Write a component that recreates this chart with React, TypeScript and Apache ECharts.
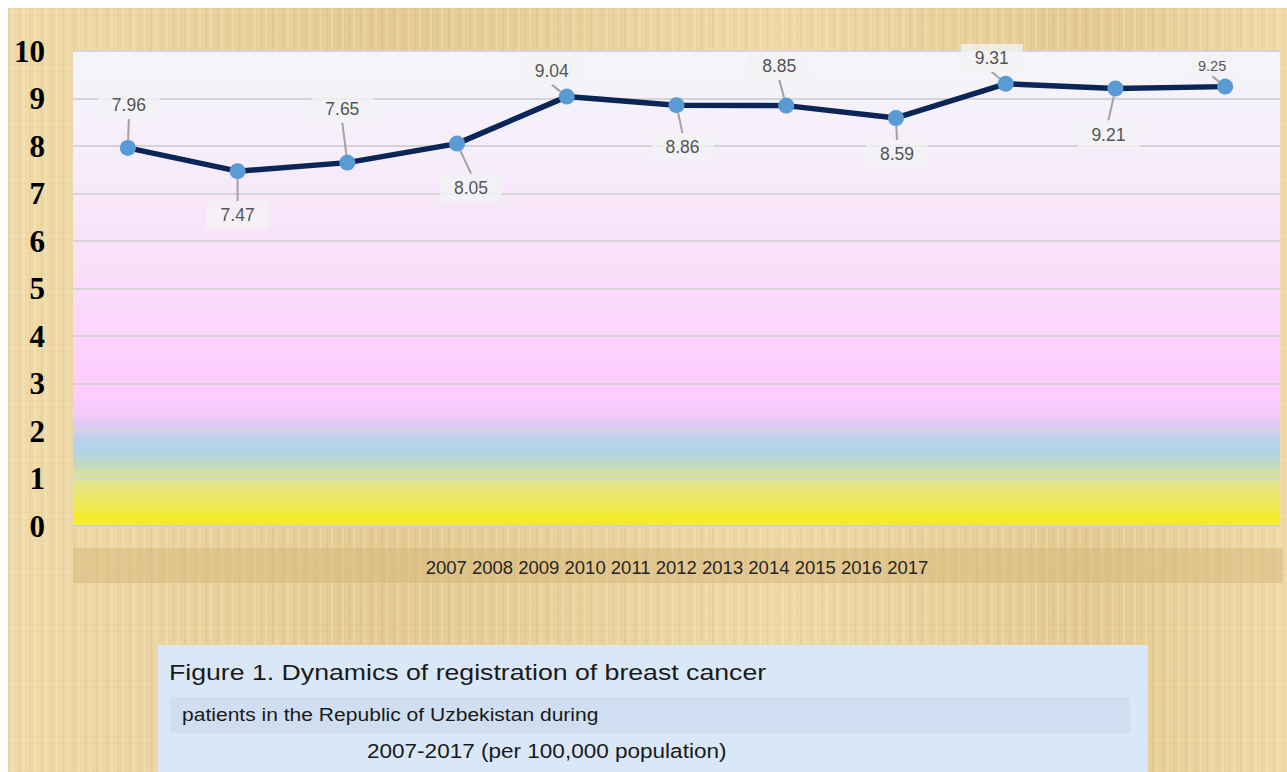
import React, { useEffect, useRef } from "react";
import * as echarts from "echarts";

const years = ["2007", "2008", "2009", "2010", "2011", "2012", "2013", "2014", "2015", "2016", "2017"];
const values = [7.96, 7.47, 7.65, 8.05, 9.04, 8.86, 8.85, 8.59, 9.31, 9.21, 9.25];
const yMin = 0;
const yMax = 10;
const yInterval = 1;
const captionLines = [
  "Figure 1. Dynamics of registration of breast cancer",
  "patients in the Republic of Uzbekistan during",
  "2007-2017 (per 100,000 population)",
];

// label displacement (layout only), relative to each point
const labelShift: [number, number][] = [
  [1, -43], [0, 44], [-5, -54], [14, 44], [-15, -26], [6, 42],
  [-7, -40], [1, 36], [-14, -26], [-7, 46], [-13, -21],
];

export default function App() {
  const ref = useRef<HTMLDivElement>(null);

  useEffect(() => {
    if (!ref.current) return;
    const chart = echarts.init(ref.current, undefined, { renderer: "svg" });

    const plotGradient = new echarts.graphic.LinearGradient(0, 0, 0, 1, [
      { offset: 0, color: "#f4f5fa" },
      { offset: 0.2, color: "#f6eefa" },
      { offset: 0.45, color: "#f9e0f9" },
      { offset: 0.65, color: "#fdd0fd" },
      { offset: 0.72, color: "#ffccff" },
      { offset: 0.76, color: "#f6c9fb" },
      { offset: 0.79, color: "#dccbf0" },
      { offset: 0.82, color: "#b7d2ea" },
      { offset: 0.845, color: "#b0d4e6" },
      { offset: 0.87, color: "#c2dac0" },
      { offset: 0.895, color: "#d8e2a0" },
      { offset: 0.92, color: "#e6e67c" },
      { offset: 0.96, color: "#eeea50" },
      { offset: 0.985, color: "#f4ec28" },
      { offset: 1, color: "#f2ea36" },
    ]);

    const seriesData = values.map((v, i) => ({
      value: v,
      label: i === values.length - 1 ? { fontSize: 14.5, padding: [3, 8] } : {},
    }));

    chart.setOption({
      animation: false,
      backgroundColor: "transparent",
      grid: {
        left: 65,
        right: 7,
        top: 43,
        bottom: 246,
        show: true,
        backgroundColor: plotGradient,
        borderWidth: 0,
      },
      xAxis: {
        type: "category",
        data: years,
        boundaryGap: true,
        axisLabel: { show: false },
        axisTick: { show: false },
        axisLine: { show: true, lineStyle: { color: "#d4d0cc", width: 2 } },
      },
      yAxis: {
        type: "value",
        min: yMin,
        max: yMax,
        interval: yInterval,
        axisLine: { show: false },
        axisTick: { show: false },
        axisLabel: {
          fontFamily: "Liberation Serif",
          fontWeight: "bold",
          fontSize: 31,
          color: "#000",
          margin: 28,
        },
        splitLine: { lineStyle: { color: "#d6d3d6", width: 2 } },
      },
      series: [
        {
          type: "line",
          data: seriesData,
          symbol: "circle",
          symbolSize: 16,
          lineStyle: { color: "#0c2557", width: 5.5 },
          itemStyle: { color: "#5b9bd5" },
          z: 3,
          label: {
            show: true,
            position: "inside",
            fontFamily: "Liberation Sans",
            fontSize: 17.5,
            color: "#555",
            backgroundColor: "rgba(243,243,245,0.8)",
            padding: [5, 14],
            formatter: (p: any) => String(p.value),
          },
          labelLine: {
            show: true,
            lineStyle: { color: "#a3a3a3", width: 2 },
          },
          labelLayout: (p: any) => {
            const s = labelShift[p.dataIndex] || [0, 0];
            return { dx: s[0], dy: s[1] };
          },
        },
      ],
      graphic: [
        {
          type: "rect",
          silent: true,
          z: -1,
          shape: { x: 65, y: 540, width: 1210, height: 35 },
          style: { fill: "rgba(214,182,120,0.5)" },
        },
        {
          type: "text",
          silent: true,
          x: 669,
          y: 559,
          style: {
            text: years.join(" "),
            fontFamily: "Liberation Sans",
            fontSize: 18.5,
            fill: "#262626",
            textAlign: "center",
            textVerticalAlign: "middle",
          },
        },
        {
          type: "rect",
          silent: true,
          shape: { x: 150, y: 637, width: 990, height: 127 },
          style: { fill: "#d9e7f6" },
        },
        {
          type: "rect",
          silent: true,
          shape: { x: 162, y: 689, width: 960, height: 36 },
          style: { fill: "#cfdef0" },
        },
        {
          type: "text",
          silent: true,
          x: 161,
          y: 664,
          scaleX: 1.17,
          style: {
            text: captionLines[0],
            fontFamily: "Liberation Sans",
            fontSize: 22.8,
            fill: "#1a1a1a",
            textAlign: "left",
            textVerticalAlign: "middle",
          },
        },
        {
          type: "text",
          silent: true,
          x: 174,
          y: 707,
          scaleX: 1.15,
          style: {
            text: captionLines[1],
            fontFamily: "Liberation Sans",
            fontSize: 18.3,
            fill: "#1a1a1a",
            textAlign: "left",
            textVerticalAlign: "middle",
          },
        },
        {
          type: "text",
          silent: true,
          x: 359,
          y: 743,
          scaleX: 1.15,
          style: {
            text: captionLines[2],
            fontFamily: "Liberation Sans",
            fontSize: 19.6,
            fill: "#1a1a1a",
            textAlign: "left",
            textVerticalAlign: "middle",
          },
        },
      ],
    });

    return () => chart.dispose();
  }, []);

  const papyrus: React.CSSProperties = {
    position: "absolute",
    left: 8,
    top: 8,
    width: 1279,
    height: 764,
    backgroundColor: "#e9d29c",
    backgroundImage: [
      "repeating-linear-gradient(90deg, rgba(170,128,60,0.12) 0px, rgba(170,128,60,0.12) 1px, transparent 1px, transparent 4px, rgba(255,246,220,0.2) 4px, rgba(255,246,220,0.2) 6px, transparent 6px, transparent 11px)",
      "repeating-linear-gradient(0deg, rgba(170,128,60,0.05) 0px, rgba(170,128,60,0.05) 1px, transparent 1px, transparent 7px)",
      "linear-gradient(90deg, rgba(255,240,200,0.3), rgba(200,160,90,0.15) 30%, rgba(255,240,200,0.25) 60%, rgba(200,160,90,0.15) 85%, rgba(255,240,200,0.3))",
    ].join(","),
  };

  return (
    <div style={papyrus}>
      <div ref={ref} style={{ width: 1279, height: 764 }} />
    </div>
  );
}
